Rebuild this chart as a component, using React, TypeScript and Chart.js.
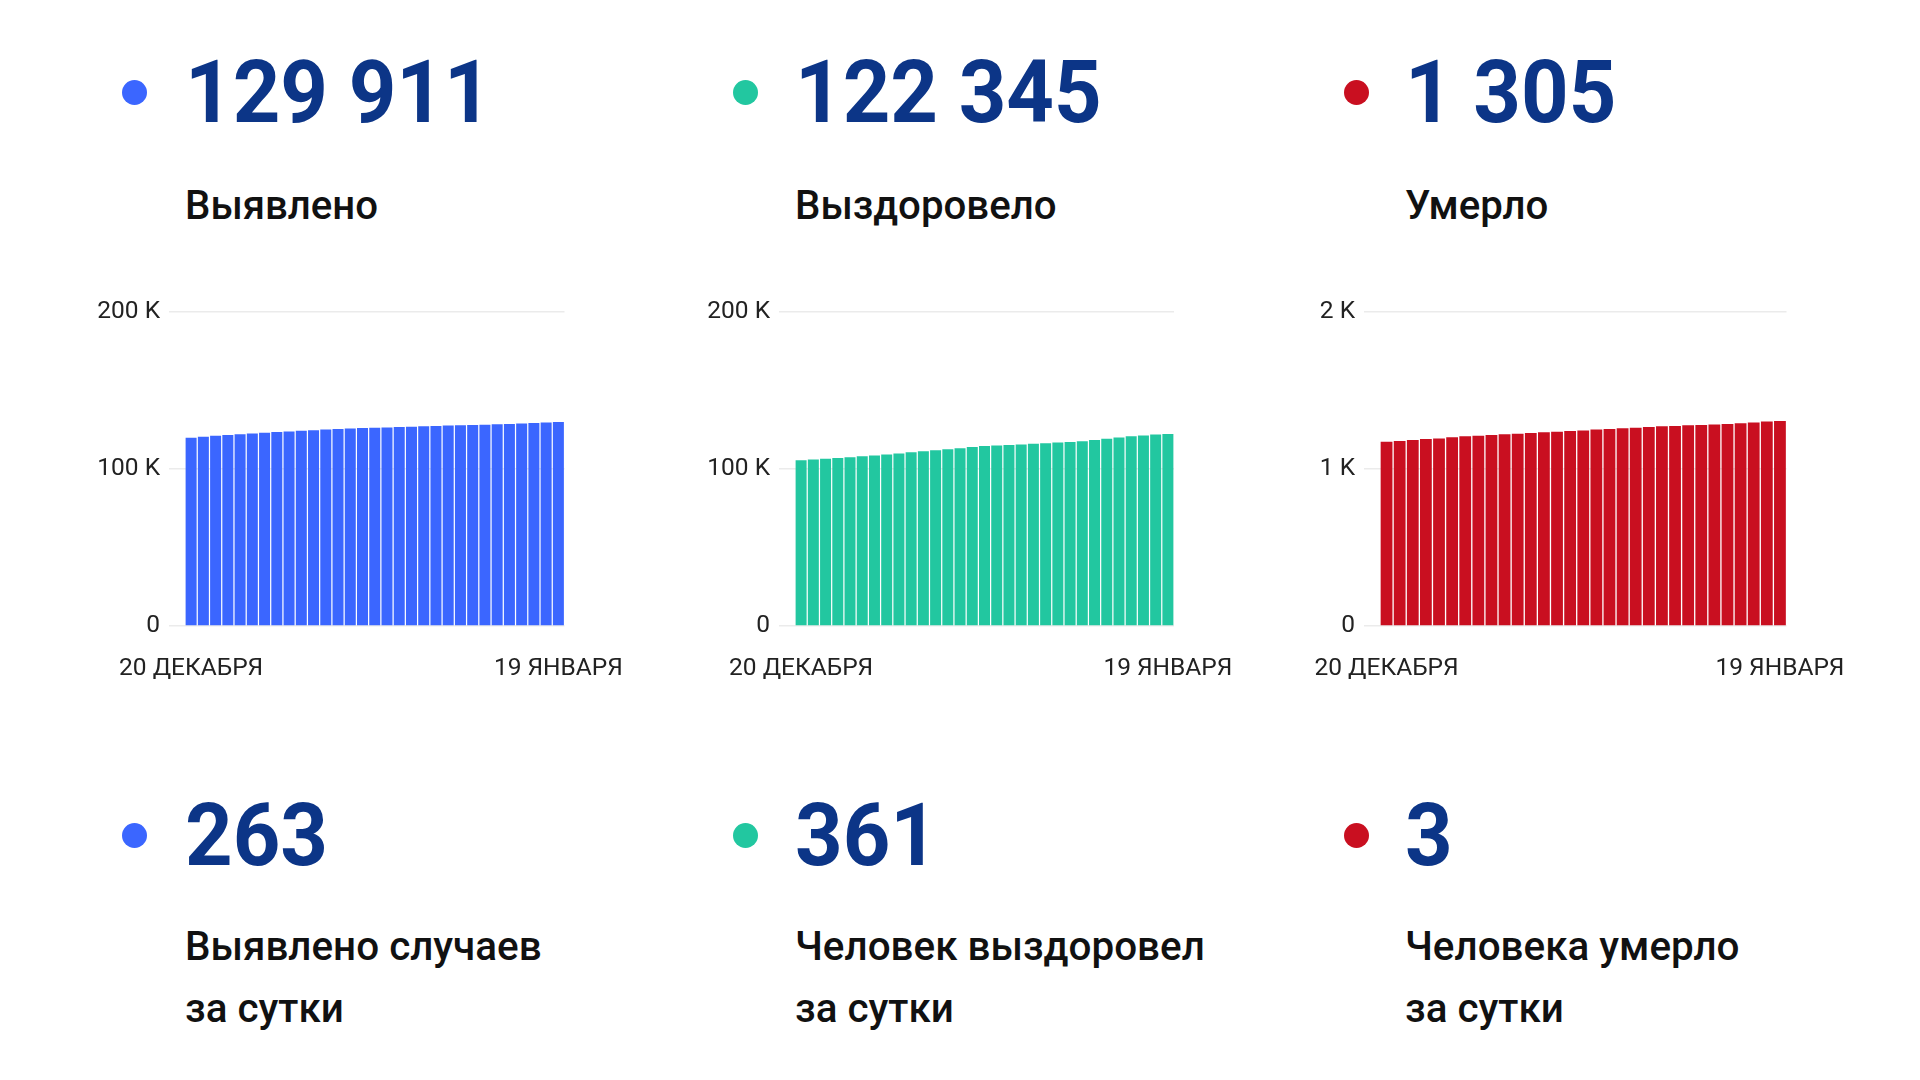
import React, { useEffect, useRef } from "react";
import { Chart, registerables } from "chart.js";

Chart.register(...registerables);

const categories = [
  "20 ДЕКАБРЯ", "21 ДЕКАБРЯ", "22 ДЕКАБРЯ", "23 ДЕКАБРЯ", "24 ДЕКАБРЯ", "25 ДЕКАБРЯ",
  "26 ДЕКАБРЯ", "27 ДЕКАБРЯ", "28 ДЕКАБРЯ", "29 ДЕКАБРЯ", "30 ДЕКАБРЯ", "31 ДЕКАБРЯ",
  "1 ЯНВАРЯ", "2 ЯНВАРЯ", "3 ЯНВАРЯ", "4 ЯНВАРЯ", "5 ЯНВАРЯ", "6 ЯНВАРЯ", "7 ЯНВАРЯ",
  "8 ЯНВАРЯ", "9 ЯНВАРЯ", "10 ЯНВАРЯ", "11 ЯНВАРЯ", "12 ЯНВАРЯ", "13 ЯНВАРЯ",
  "14 ЯНВАРЯ", "15 ЯНВАРЯ", "16 ЯНВАРЯ", "17 ЯНВАРЯ", "18 ЯНВАРЯ", "19 ЯНВАРЯ",
];

const confirmedValues = [
  119900, 120600, 121200, 121700, 122200, 122650, 123050, 123500, 123950, 124350,
  124750, 125150, 125450, 125800, 126050, 126300, 126500, 126700, 126950, 127200,
  127400, 127650, 127850, 128050, 128250, 128450, 128700, 128950, 129250, 129648, 129911,
];

const recoveredValues = [
  105500, 106000, 106500, 107000, 107500, 108050, 108650, 109300, 109950, 110600,
  111250, 111900, 112600, 113250, 113950, 114600, 114950, 115300, 115650, 116050,
  116450, 116850, 117200, 117700, 118400, 119300, 120050, 120800, 121400, 121984, 122345,
];

const deathValues = [
  1174, 1178, 1185, 1191, 1195, 1202, 1208, 1212, 1217, 1221,
  1225, 1229, 1234, 1238, 1242, 1246, 1251, 1255, 1259, 1263,
  1268, 1272, 1274, 1278, 1280, 1284, 1287, 1291, 1296, 1302, 1305,
];

const confirmedTicks = [0, 100000, 200000];
const confirmedTickLabels = ["0", "100 K", "200 K"];
const recoveredTicks = [0, 100000, 200000];
const recoveredTickLabels = ["0", "100 K", "200 K"];
const deathTicks = [0, 1000, 2000];
const deathTickLabels = ["0", "1 K", "2 K"];

const totals = ["129 911", "122 345", "1 305"];
const totalTitles = ["Выявлено", "Выздоровело", "Умерло"];
const dailyValues = ["263", "361", "3"];
const dailyTitles = [
  ["Выявлено случаев", "за сутки"],
  ["Человек выздоровел", "за сутки"],
  ["Человека умерло", "за сутки"],
];

const colors = ["#3b66ff", "#22c7a0", "#c90f20"];
const NUM_COLOR = "#0c3587";

type MiniProps = {
  values: number[];
  ticks: number[];
  tickLabels: string[];
  color: string;
  left: number;
  areaLeft: number;
  areaRight: number;
};

function MiniChart({ values, ticks, tickLabels, color, left, areaLeft, areaRight }: MiniProps) {
  const ref = useRef<HTMLCanvasElement>(null);
  const top = 280;
  const width = 570;
  const height = 420;
  useEffect(() => {
    if (!ref.current) return;
    const yWidth = areaLeft - left;
    const padRight = left + width - areaRight;
    const chart = new Chart(ref.current, {
      type: "bar",
      data: {
        labels: categories,
        datasets: [
          {
            data: values,
            backgroundColor: color,
            borderWidth: 0,
            barPercentage: 0.9,
            categoryPercentage: 1,
          },
        ],
      },
      options: {
        animation: false,
        responsive: false,
        maintainAspectRatio: false,
        layout: { padding: { top: 32, right: padRight, left: 0, bottom: 14 } },
        plugins: { legend: { display: false }, tooltip: { enabled: false } },
        scales: {
          x: {
            grid: { display: false, drawTicks: false },
            border: { display: false },
            ticks: {
              autoSkip: false,
              maxRotation: 0,
              minRotation: 0,
              padding: 28,
              color: "#222",
              font: { family: "Roboto", size: 24.5 },
              callback: (_v: any, i: number) =>
                i === 0 || i === categories.length - 1 ? categories[i] : "",
            },
            afterFit: (s: any) => {
              s.height = 60;
              s.paddingLeft = 0;
              s.paddingRight = 0;
            },
          },
          y: {
            min: ticks[0],
            max: ticks[ticks.length - 1],
            grid: {
              color: "#ebebeb",
              lineWidth: 1.5,
              drawTicks: true,
              tickLength: 16,
              tickColor: "#ebebeb",
            },
            border: { display: false },
            afterBuildTicks: (s: any) => {
              s.ticks = ticks.map((v) => ({ value: v }));
            },
            ticks: {
              padding: 9,
              color: "#222",
              font: { family: "Roboto", size: 24.5 },
              callback: (v: any) => {
                const idx = ticks.indexOf(Number(v));
                return idx >= 0 ? tickLabels[idx] : "";
              },
            },
            afterFit: (s: any) => {
              s.width = yWidth;
            },
          },
        },
      },
    });
    return () => chart.destroy();
  }, []);
  return (
    <canvas
      ref={ref}
      width={width}
      height={height}
      style={{ position: "absolute", left, top, width, height }}
    />
  );
}

function Dot({ x, y, color }: { x: number; y: number; color: string }) {
  const d = 25;
  return (
    <div
      style={{
        position: "absolute",
        left: x - d / 2,
        top: y - d / 2,
        width: d,
        height: d,
        borderRadius: "50%",
        background: color,
      }}
    />
  );
}

function Txt({
  x,
  y,
  size,
  weight,
  color,
  lineHeight,
  sx,
  children,
}: {
  x: number;
  y: number;
  size: number;
  weight: number;
  color: string;
  lineHeight: number;
  sx: number;
  children: React.ReactNode;
}) {
  return (
    <div
      style={{
        position: "absolute",
        left: x,
        top: y,
        fontFamily: "Roboto",
        fontSize: size,
        fontWeight: weight,
        color,
        lineHeight: lineHeight + "px",
        whiteSpace: "nowrap",
        transform: `scaleX(${sx})`,
        transformOrigin: "0 0",
      }}
    >
      {children}
    </div>
  );
}

export default function App() {
  const colX = [185, 795, 1405];
  const dotX = [134, 745, 1356];
  const chartCfg = [
    { values: confirmedValues, ticks: confirmedTicks, tickLabels: confirmedTickLabels, left: 80, areaLeft: 185, areaRight: 564.5 },
    { values: recoveredValues, ticks: recoveredTicks, tickLabels: recoveredTickLabels, left: 690, areaLeft: 795, areaRight: 1174 },
    { values: deathValues, ticks: deathTicks, tickLabels: deathTickLabels, left: 1300, areaLeft: 1380, areaRight: 1786.5 },
  ];
  return (
    <div
      style={{
        position: "fixed",
        left: 0,
        top: 0,
        width: 1920,
        height: 1080,
        background: "#fff",
        overflow: "hidden",
      }}
    >
      {[0, 1, 2].map((i) => (
        <React.Fragment key={i}>
          <Dot x={dotX[i]} y={92} color={colors[i]} />
          <Txt x={colX[i]} y={49} size={87} weight={700} color={NUM_COLOR} lineHeight={87} sx={0.955}>
            {totals[i]}
          </Txt>
          <Txt x={colX[i]} y={185.5} size={40} weight={500} color="#111" lineHeight={40} sx={1.005}>
            {totalTitles[i]}
          </Txt>
          <MiniChart {...chartCfg[i]} color={colors[i]} />
          <Dot x={dotX[i]} y={835} color={colors[i]} />
          <Txt x={colX[i]} y={792} size={87} weight={700} color={NUM_COLOR} lineHeight={87} sx={0.955}>
            {dailyValues[i]}
          </Txt>
          <Txt x={colX[i]} y={916} size={40} weight={500} color="#111" lineHeight={61.5} sx={1.01}>
            <div>{dailyTitles[i][0]}</div>
            <div>{dailyTitles[i][1]}</div>
          </Txt>
        </React.Fragment>
      ))}
    </div>
  );
}
